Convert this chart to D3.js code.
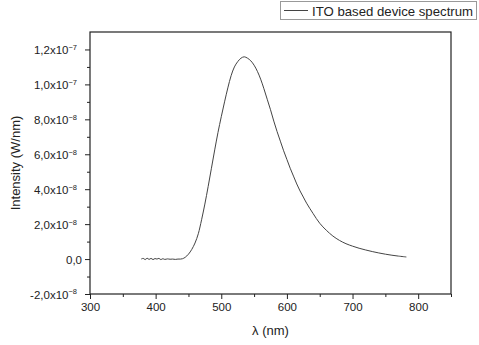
<!DOCTYPE html>
<html>
<head>
<meta charset="utf-8">
<script src="https://cdn.jsdelivr.net/npm/d3@7"></script>
<style>
  body { margin: 0; background: #fff; }
  text { font-family: "Liberation Sans", Arial, sans-serif; fill: #222; }
</style>
</head>
<body>
<svg id="chart" width="479" height="345"></svg>
<script>
// wavelength (nm)
const wavelength = [378, 381, 384, 387, 390, 393, 396, 399, 402, 405, 408, 411, 414, 418, 422, 426, 430, 434, 438, 441, 445, 450, 455, 460, 465, 470, 475, 480, 485, 490, 495, 500, 505, 510, 515, 520, 525, 530, 535, 540, 545, 550, 555, 560, 565, 570, 575, 580, 585, 590, 595, 600, 605, 610, 615, 620, 625, 630, 640, 650, 660, 670, 680, 690, 700, 710, 720, 730, 740, 750, 760, 770, 782];
// intensity in units of 1e-8 W/nm
const intensity = [0.0, 0.04, -0.03, 0.05, -0.02, 0.04, -0.03, 0.03, 0.0, 0.04, -0.03, 0.02, -0.02, 0.01, -0.01, 0.0, -0.02, 0.0, 0.0, 0.02, 0.1, 0.28, 0.55, 0.92, 1.45, 2.25, 3.15, 4.15, 5.2, 6.25, 7.25, 8.15, 9.0, 9.8, 10.5, 11.0, 11.3, 11.5, 11.58, 11.5, 11.35, 11.1, 10.75, 10.3, 9.75, 9.15, 8.55, 7.9, 7.3, 6.75, 6.2, 5.7, 5.2, 4.75, 4.3, 3.9, 3.55, 3.2, 2.6, 2.05, 1.65, 1.32, 1.07, 0.88, 0.74, 0.62, 0.52, 0.43, 0.35, 0.28, 0.22, 0.17, 0.12];

const xTicks = [300, 400, 500, 600, 700, 800];
const yTicks = [-2, 0, 2, 4, 6, 8, 10, 12]; // x 1e-8
const yMant = ['-2,0', '0,0', '2,0', '4,0', '6,0', '8,0', '1,0', '1,2'];
const yExp = ['-8', null, '-8', '-8', '-8', '-8', '-7', '-7'];

const data = wavelength.map((w, i) => ({ w: w, v: intensity[i] }));

const svg = d3.select('#chart');
const margin = { top: 32, right: 28, bottom: 51, left: 90 };
const width = 479 - margin.left - margin.right;
const height = 345 - margin.top - margin.bottom;

const g = svg.append('g').attr('transform', `translate(${margin.left},${margin.top})`);

const x = d3.scaleLinear().domain([300, 850]).range([0, width]);
const y = d3.scaleLinear().domain([-2, 13]).range([height, 0]);

// frame
g.append('rect')
  .attr('width', width).attr('height', height)
  .attr('fill', 'none').attr('stroke', '#222').attr('stroke-width', 1.2);

// x axis
const xAxis = d3.axisBottom(x).tickValues(xTicks).tickSize(5).tickPadding(4).tickFormat(d3.format('d'));
const xg = g.append('g').attr('transform', `translate(0,${height})`).call(xAxis);
xg.select('.domain').remove();
xg.selectAll('line').attr('stroke', '#222');
xg.selectAll('text').attr('font-size', 11.5).attr('font-family', '"Liberation Sans", Arial, sans-serif').attr('fill', '#222');
// minor x ticks
g.append('g').attr('transform', `translate(0,${height})`)
  .call(d3.axisBottom(x).tickValues(xTicks.map(d => d + 50)).tickSize(3).tickFormat(''))
  .call(a => a.select('.domain').remove())
  .selectAll('line').attr('stroke', '#222');

// y axis
const yAxis = d3.axisLeft(y).tickValues(yTicks).tickSize(5).tickPadding(3).tickFormat('');
const yg = g.append('g').call(yAxis);
yg.select('.domain').remove();
yg.selectAll('line').attr('stroke', '#222');
yg.selectAll('.tick').each(function(d, i) {
  const t = d3.select(this).append('text')
    .attr('x', yExp[i] ? -13 : -8).attr('dy', '0.35em')
    .attr('text-anchor', 'end').attr('font-size', 11.5)
    .attr('fill', '#222')
    .attr('font-family', '"Liberation Sans", Arial, sans-serif');
  if (yExp[i]) {
    t.append('tspan').text(yMant[i] + 'x10');
    t.append('tspan').attr('dy', '-0.55em').attr('font-size', 7.5).text(yExp[i].replace('-', '\u2212'));
  } else {
    t.text(yMant[i]);
  }
});
// minor y ticks
g.append('g')
  .call(d3.axisLeft(y).tickValues(yTicks.slice(0, -1).map(d => d + 1)).tickSize(3).tickFormat(''))
  .call(a => a.select('.domain').remove())
  .selectAll('line').attr('stroke', '#222');

// curve
const line = d3.line().x(d => x(d.w)).y(d => y(d.v)).curve(d3.curveCatmullRom.alpha(0.5));
g.append('path').datum(data)
  .attr('d', line)
  .attr('fill', 'none').attr('stroke', '#444').attr('stroke-width', 1);

// axis titles
svg.append('text')
  .attr('x', margin.left + x(575)).attr('y', 335)
  .attr('text-anchor', 'middle').attr('font-size', 13)
  .text('\u03bb (nm)');
svg.append('text')
  .attr('transform', `translate(20,${margin.top + height / 2}) rotate(-90)`)
  .attr('text-anchor', 'middle').attr('font-size', 13)
  .text('Intensity (W/nm)');

// legend
const leg = svg.append('g');
leg.append('rect')
  .attr('x', 280.5).attr('y', 1.5).attr('width', 196).attr('height', 18)
  .attr('fill', '#fff').attr('stroke', '#999').attr('stroke-width', 1);
leg.append('line')
  .attr('x1', 284).attr('x2', 308).attr('y1', 10.5).attr('y2', 10.5)
  .attr('stroke', '#444').attr('stroke-width', 1);
leg.append('text')
  .attr('x', 312).attr('y', 15.5).attr('font-size', 13.2)
  .text('ITO based device spectrum');
</script>
</body>
</html>
